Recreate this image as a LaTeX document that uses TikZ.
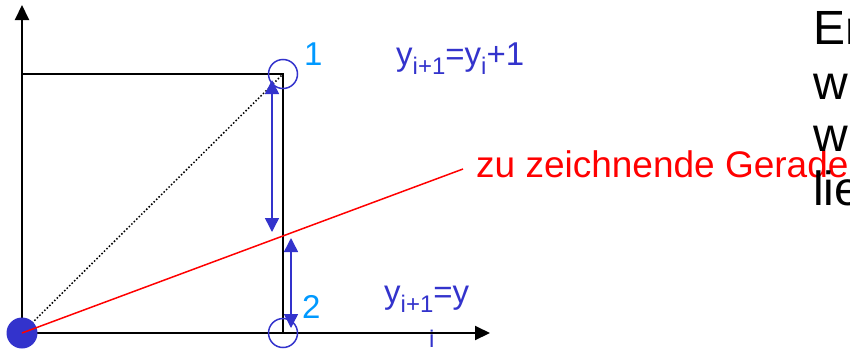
\documentclass[tikz,border=0pt]{standalone}
\usepackage{fontspec}
\setmainfont{Liberation Sans}
\usetikzlibrary{arrows.meta}
\definecolor{myblue}{RGB}{51,51,204}
\definecolor{mycyan}{RGB}{0,153,255}
\newcommand{\mysub}[1]{\raisebox{-0.28em}{\fontsize{24}{24}\selectfont #1}}
\tikzset{
  axis/.style={line width=2pt,-{Triangle[length=15pt,width=14pt]}},
  frame/.style={line width=2pt},
  dblarrow/.style={myblue,line width=1.5pt,{Triangle[length=14pt,width=14pt]}-{Triangle[length=14pt,width=14pt]}},
  ring/.style={draw=myblue,line width=1.5pt,circle,minimum size=29pt,inner sep=0pt},
  lbl/.style={inner sep=0pt,anchor=base west,font=\fontsize{33}{33}\selectfont},
}
\begin{document}
\begin{tikzpicture}[x=1pt,y=-1pt]
\useasboundingbox (0,0) rectangle (850,351);
\coordinate (O) at (22,333);
\coordinate (Ytop) at (22,5);
\coordinate (Xend) at (490,333);
\coordinate (TL) at (22,74);
\coordinate (TR) at (283,74);
\coordinate (BR) at (283,333);
\coordinate (R) at (463,169);
\coordinate (A1) at (272,80);
\coordinate (A2) at (272,232);
\coordinate (B1) at (291,238);
\coordinate (B2) at (291,328);
% frame
\draw[frame] (TL) -- (TR) -- (BR);
\draw[axis] (O) -- (Ytop);
\draw[axis] (O) -- (Xend);
\draw[dotted,line width=1.5pt] (O) -- (TR);
% circles and dot
\node[ring] (c1) at (TR) {};
\node[ring] (c2) at (BR) {};
\node[circle,fill=myblue,minimum size=31pt,inner sep=0pt] (dot) at (O) {};
% blue double arrows
\draw[dblarrow] (A1) -- (A2);
\draw[dblarrow] (B1) -- (B2);
% red line
\draw[red,line width=1.5pt] (O) -- (R);
% labels
\node[lbl,text=mycyan] (l1) at (304,65) {1};
\node[lbl,text=mycyan] (l2) at (302,318) {2};
\node[lbl,text=myblue] (e1) at (396,65) {y\mysub{i+1}=y\mysub{i}+1};
\node[lbl,text=myblue] (e2) at (384,303) {y\mysub{i+1}=y};
\node[lbl,text=myblue,font=\fontsize{24}{24}\selectfont] (e2i) at (429,347) {i};
\node[lbl,text=red,font=\fontsize{37}{37}\selectfont] (g) at (476,177) {zu zeichnende Gerade};
\node[lbl,font=\fontsize{48}{48}\selectfont] (t1) at (813,44) {Er};
\node[lbl,font=\fontsize{48}{48}\selectfont] (t2) at (813,99) {w};
\node[lbl,font=\fontsize{48}{48}\selectfont] (t3) at (813,151) {w};
\node[lbl,font=\fontsize{48}{48}\selectfont] (t4) at (813,205) {lie};
\end{tikzpicture}
\end{document}
